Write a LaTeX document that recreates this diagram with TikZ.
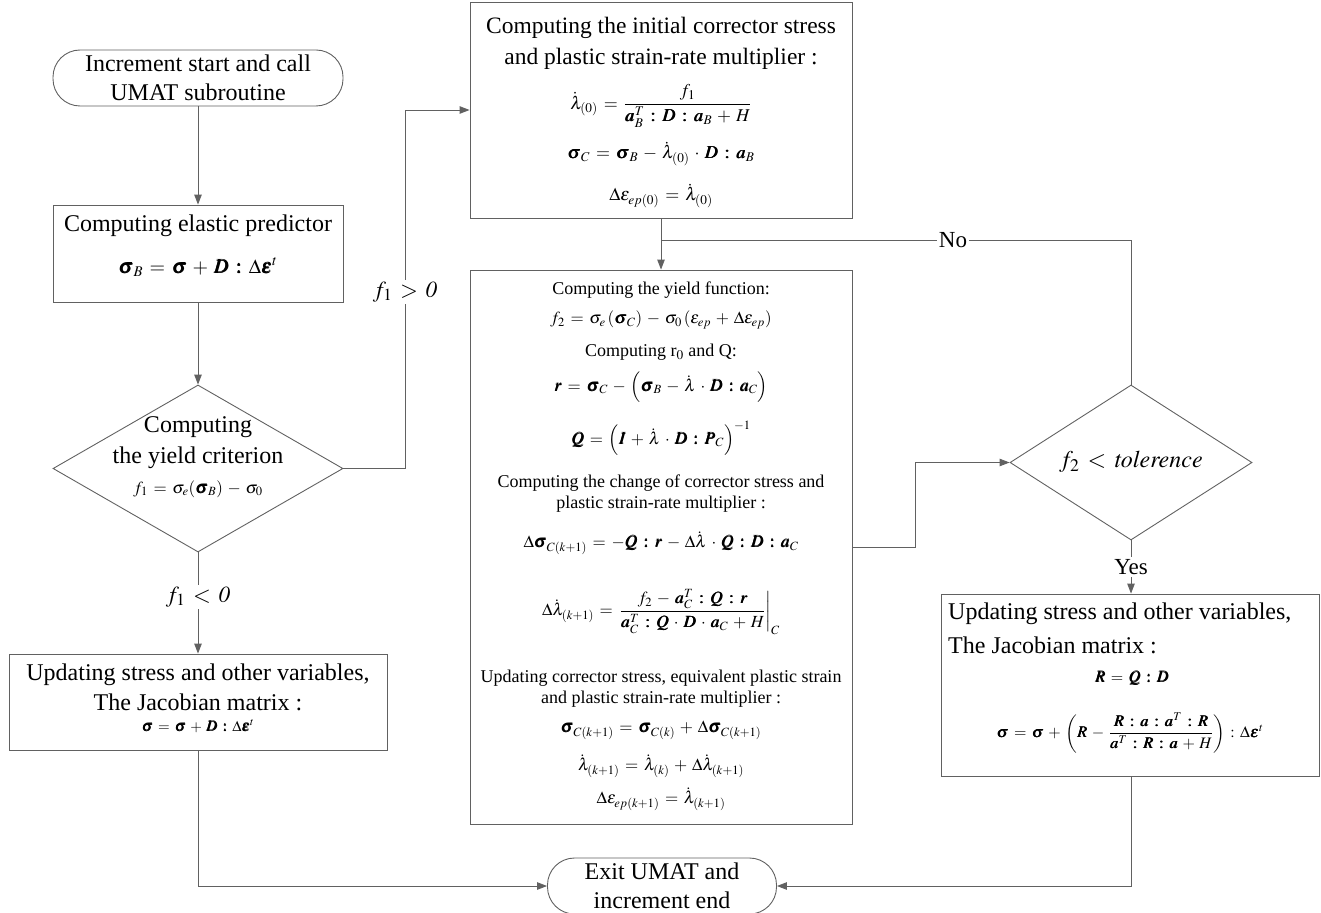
\documentclass[tikz,border=0pt]{standalone}
\usepackage{amsmath}
\usepackage{mathptmx}
\usepackage{fontspec}
\setmainfont{Liberation Serif}
\usepackage{bm}
\usetikzlibrary{shapes.geometric,arrows.meta}
\newcommand{\dc}{\mathrel{\bm{:}}}
\newcommand{\ldot}{\dot{\lambda}}
\medmuskip=5mu plus 2mu minus 3mu
\thickmuskip=6mu plus 3mu minus 2mu
\tikzset{
  ln/.style={draw=black!62, line width=0.9pt},
  arr/.style={ln, -{Triangle[length=10pt,width=7.5pt]}},
  box/.style={draw=black!62, line width=0.9pt, rectangle, inner sep=0pt},
  term/.style={draw=black!62, line width=0.9pt, rectangle, rounded corners=27pt, inner sep=0pt, align=center, font=\fontsize{24}{29}\selectfont},
  dia/.style={draw=black!62, line width=0.9pt, diamond, inner sep=0pt},
  big/.style={font=\fontsize{24}{30}\selectfont, align=center, inner sep=0pt},
  sml/.style={font=\fontsize{18}{21}\selectfont, align=center, inner sep=0pt},
  fm/.style={font=\fontsize{17}{20}\selectfont, inner sep=0pt},
  lab/.style={font=\fontsize{23}{26}\selectfont, fill=white, inner sep=2pt}
}
\begin{document}
\begin{tikzpicture}[x=1pt,y=-1pt]
\useasboundingbox (0,0) rectangle (1321,912);
% shapes
\node[term, minimum width=290, minimum height=56] (start) at (198,78) {Increment start and call\\UMAT subroutine};
\node[box, minimum width=290, minimum height=97] (pred) at (198,253.5) {};
\node[dia, minimum width=290, minimum height=167] (dia1) at (198,468.5) {};
\node[box, minimum width=378, minimum height=96] (upd1) at (198.5,702) {};
\node[term, minimum width=229, minimum height=56] (exit) at (662,886) {Exit UMAT and\\increment end};
\node[box, minimum width=382, minimum height=216] (top) at (661,110) {};
\node[box, minimum width=382, minimum height=554] (mid) at (661,547) {};
\node[dia, minimum width=242, minimum height=155] (dia2) at (1131,462.5) {};
\node[box, minimum width=378, minimum height=182] (upd2) at (1130,685) {};

% pred contents
\node[big] (predt) at (198,226) {Computing elastic predictor};
\node[fm, font=\fontsize{20}{24}\selectfont] (predf) at (198,267) {$\bm{\sigma}_B = \bm{\sigma} + \bm{D}\dc\Delta\bm{\varepsilon}^t$};
% dia1 contents
\node[big] (d1a) at (198,427) {Computing};
\node[big] (d1b) at (198,458) {the yield criterion};
\node[fm] (d1f) at (198,489) {$f_1 = \sigma_e(\bm{\sigma}_B) - \sigma_0$};
% upd1 contents
\node[big] (u1t) at (198,687) {Updating stress and other variables,\\The Jacobian matrix :};
\node[fm, font=\fontsize{15}{18}\selectfont] (u1f) at (198,726) {$\bm{\sigma} = \bm{\sigma} + \bm{D}\dc\Delta\bm{\varepsilon}^t$};
% top contents
\node[big, font=\fontsize{23.5}{31}\selectfont] (tt) at (661,43) {Computing the initial corrector stress\\and plastic strain-rate multiplier :};
\node[fm, font=\fontsize{18}{22}\selectfont] (tf1) at (661,106) {$\ldot_{(0)} = \dfrac{f_1}{\bm{a}_B^T\dc\bm{D}\dc\bm{a}_B + H}$};
\node[fm, font=\fontsize{18}{22}\selectfont] (tf2) at (661,154) {$\bm{\sigma}_C = \bm{\sigma}_B - \ldot_{(0)}\cdot\bm{D}\dc\bm{a}_B$};
\node[fm, font=\fontsize{18}{22}\selectfont] (tf3) at (661,196) {$\Delta\varepsilon_{ep(0)} = \ldot_{(0)}$};
% mid contents
\node[sml] (m1) at (661,290) {Computing the yield function:};
\node[fm] (m2) at (661,320) {$f_2 = \sigma_e\left(\bm{\sigma}_C\right) - \sigma_0\left(\varepsilon_{ep} + \Delta\varepsilon_{ep}\right)$};
\node[sml] (m3) at (661,352) {Computing r$_0$ and Q:};
\node[fm] (m4) at (661,387) {$\bm{r} = \bm{\sigma}_C - \left(\bm{\sigma}_B - \ldot\cdot\bm{D}\dc\bm{a}_C\right)$};
\node[fm] (m5) at (661,438) {$\bm{Q} = \left(\bm{I} + \ldot\cdot\bm{D}\dc\bm{P}_C\right)^{-1}$};
\node[sml] (m6) at (661,494) {Computing the change of corrector stress and\\plastic strain-rate multiplier :};
\node[fm] (m7) at (661,543) {$\Delta\bm{\sigma}_{C(k+1)} = -\bm{Q}\dc\bm{r} - \Delta\ldot\cdot\bm{Q}\dc\bm{D}\dc\bm{a}_C$};
\node[fm] (m8) at (661,612) {$\Delta\ldot_{(k+1)} = \left.\dfrac{f_2 - \bm{a}_C^T\dc\bm{Q}\dc\bm{r}}{\bm{a}_C^T\dc\bm{Q}\cdot\bm{D}\cdot\bm{a}_C + H}\right|_C$};
\node[sml] (m9) at (661,689) {Updating corrector stress, equivalent plastic strain\\and plastic strain-rate multiplier :};
\node[fm] (m10) at (661,730) {$\bm{\sigma}_{C(k+1)} = \bm{\sigma}_{C(k)} + \Delta\bm{\sigma}_{C(k+1)}$};
\node[fm] (m11) at (661,766) {$\ldot_{(k+1)} = \ldot_{(k)} + \Delta\ldot_{(k+1)}$};
\node[fm] (m12) at (661,799) {$\Delta\varepsilon_{ep(k+1)} = \ldot_{(k+1)}$};
% dia2 contents
\node[big] (d2t) at (1131,462) {$f_2 < \mathit{tolerence}$};
% upd2 contents
\node[big, anchor=west] (u2a) at (948,614) {Updating stress and other variables,};
\node[big, anchor=west] (u2b) at (948,645) {The Jacobian matrix :};
\node[fm, font=\fontsize{16}{19}\selectfont] (u2f1) at (1132,678) {$\bm{R} = \bm{Q}\dc\bm{D}$};
\node[fm, font=\fontsize{16}{19}\selectfont] (u2f2) at (1130,733) {$\bm{\sigma} = \bm{\sigma} + \left(\bm{R} - \dfrac{\bm{R}\dc\bm{a}\dc\bm{a}^T\dc\bm{R}}{\bm{a}^T\dc\bm{R}\dc\bm{a} + H}\right) : \Delta\bm{\varepsilon}^t$};

% connectors
\draw[arr] (start.south) -- (pred.north);
\draw[arr] (pred.south) -- (dia1.north);
\coordinate (k1) at (405,468.5);
\draw[arr] (dia1.east) -- (k1) |- (top.west);
\node[lab] (l1) at (405,292) {$f_1 > \mathit{0}$};
\draw[arr] (dia1.south) -- (upd1.north -| dia1.south);
\node[lab] (l2) at (198,597) {$f_1 < \mathit{0}$};
\draw[arr] (upd1.south -| dia1.south) |- (exit.west);
\draw[arr] (top.south) -- (mid.north);
\coordinate (j) at (661,240);
\draw[ln] (dia2.north) |- (j);
\node[lab] (lno) at (953,240) {No};
\coordinate (k2) at (915,547);
\draw[arr] (mid.east) -- (k2) |- (dia2.west);
\draw[arr] (dia2.south) -- (upd2.north -| dia2.south);
\node[lab] (lyes) at (1131,567) {Yes};
\draw[arr] (upd2.south -| dia2.south) |- (exit.east);
\end{tikzpicture}
\end{document}
